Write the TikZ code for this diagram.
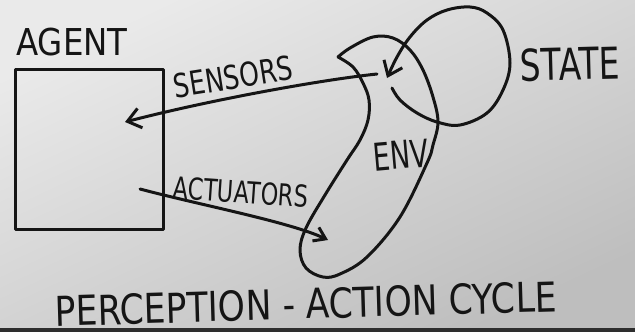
\documentclass[tikz,border=0pt]{standalone}
\usepackage{fontspec}
\setmainfont{DejaVu Sans}
\usetikzlibrary{arrows.meta}
\definecolor{ink}{HTML}{151515}
\definecolor{paperA}{HTML}{EAEAEA}
\definecolor{paperB}{HTML}{BEBEBE}
\definecolor{stripc}{HTML}{2E2E2E}
\newcommand\handfont[2]{\fontsize{#1}{#1}\selectfont\addfontfeature{FakeStretch=#2}}
\tikzset{
  inkline/.style={draw=ink, line width=3pt, line cap=round, line join=round},
  arr/.style={inkline, -{Straight Barb[length=13pt,width=20pt,line width=3pt]}},
  smallarr/.style={inkline, -{Straight Barb[length=11pt,width=15pt,line width=3pt]}},
  hand/.style={text=ink, inner sep=0pt, anchor=center},
  boxnode/.style={inkline, inner sep=0pt, minimum width=148pt, minimum height=160pt},
}
\begin{document}
\begin{tikzpicture}[x=1pt,y=-1pt]
\useasboundingbox (0,0) rectangle (635,332);
\shade[shading=axis, top color=paperA, bottom color=paperB, shading angle=25] (0,0) rectangle (635,332);
\fill[stripc] (0,328) rectangle (635,332);

% agent box
\node[boxnode] (agent) at (89,149) {};
\node[hand, font=\handfont{37pt}{0.877}] (agentlbl) at (72,42) {AGENT};

% environment blob
\draw[inkline] plot[smooth, tension=0.6] coordinates {
  (338,57) (350,48) (373,37) (393,38) (410,50) (423,70) (433,97) (438,122)
  (433,145) (427,163) (400,217) (367,257) (340,274) (323,277) (306,268)
  (300,250) (306,228) (325,195) (347,160) (360,140) (368,120) (369,100)
  (363,83) (353,67) (338,57)};
\node[hand, rotate=5, font=\handfont{38.4pt}{0.70}] (envlbl) at (401,155) {ENV};

% state loop
\coordinate (stTip) at (387,78);
\draw[arr] plot[smooth, tension=0.6] coordinates {
  (392,88) (400,100) (417,113) (437,122) (460,125) (487,113) (503,90)
  (510,63) (503,30) (487,13) (470,7) (447,10) (427,20) (410,37) (397,57) (stTip)};
\node[hand, rotate=1.5, font=\handfont{43.9pt}{0.75}] (statelbl) at (570,64) {STATE};

% sensors
\coordinate (senStart) at (377,74);
\coordinate (senTip) at (125,122);
\draw[arr] (senStart) .. controls (320,80) and (210,100) .. (senTip);
\node[hand, rotate=9, font=\handfont{32.9pt}{0.765}] (senlbl) at (233,77) {SENSORS};

% actuators
\coordinate (actStart) at (140,189);
\coordinate (actTip) at (328,240);
\draw[smallarr] (actStart) .. controls (200,205) and (290,222) .. (actTip);
\node[hand, rotate=-4, font=\handfont{30.2pt}{0.74}] (actlbl) at (241,192) {ACTUATORS};

% caption
\node[hand, rotate=1.7, font=\handfont{41.2pt}{0.84}] (caption) at (306,304) {PERCEPTION - ACTION CYCLE};
\end{tikzpicture}
\end{document}
